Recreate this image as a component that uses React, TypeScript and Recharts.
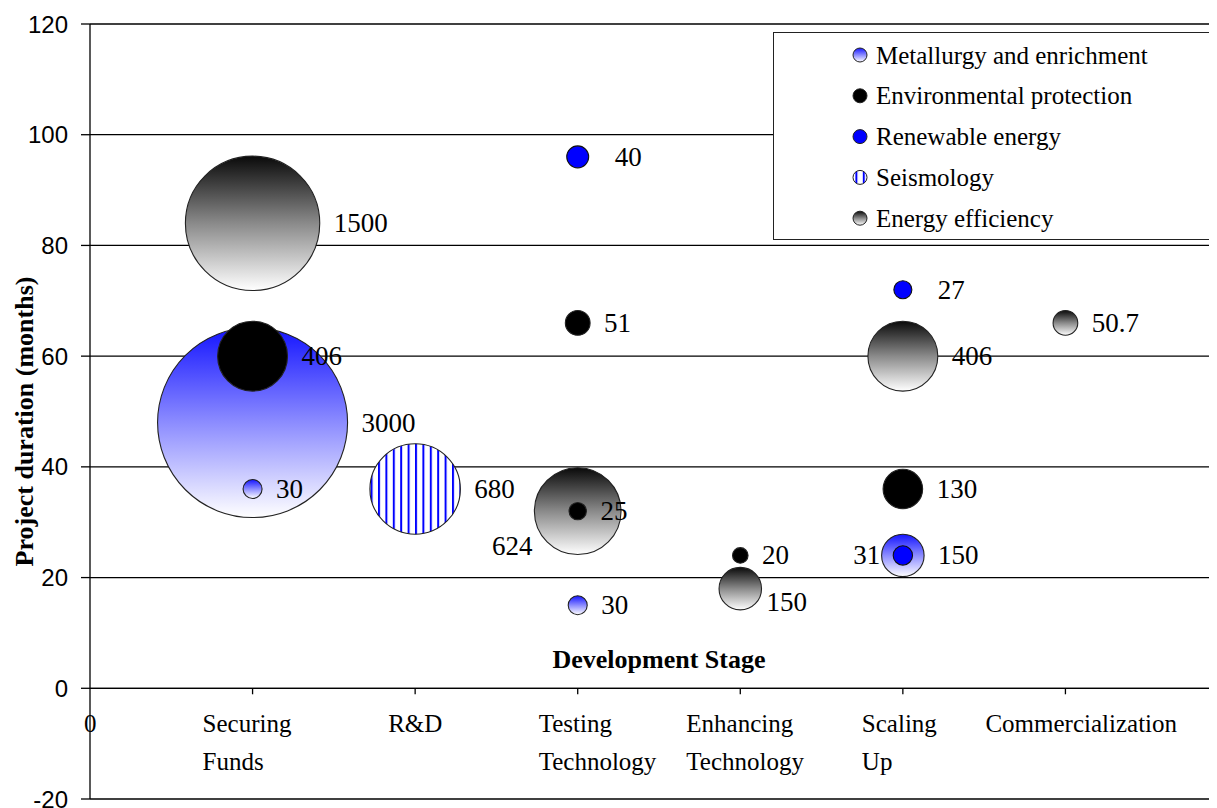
import React from "react";
import {
  ScatterChart,
  Scatter,
  XAxis,
  YAxis,
  ZAxis,
  CartesianGrid,
  ReferenceDot,
  ReferenceLine,
  Label,
} from "recharts";

// ---------- data ----------
const stageNames = ["0", "Securing Funds", "R&D", "Testing Technology", "Enhancing Technology", "Scaling Up", "Commercialization"];
const stageLines = [["0"], ["Securing", "Funds"], ["R&D"], ["Testing", "Technology"], ["Enhancing", "Technology"], ["Scaling", "Up"], ["Commercialization"]];
const yTicks = [-20, 0, 20, 40, 60, 80, 100, 120];

const metallurgyX = [1, 1, 3, 5];
const metallurgyY = [48, 36, 15, 24];
const metallurgyBudget = [3000, 30, 30, 150];

const efficiencyX = [1, 3, 4, 5, 6];
const efficiencyY = [84, 32, 18, 60, 66];
const efficiencyBudget = [1500, 624, 150, 406, 50.7];

const seismologyX = [2];
const seismologyY = [36];
const seismologyBudget = [680];

const environmentX = [1, 3, 3, 4, 5];
const environmentY = [60, 66, 32, 24, 36];
const environmentBudget = [406, 51, 25, 20, 130];

const renewableX = [3, 5, 5];
const renewableY = [96, 72, 24];
const renewableBudget = [40, 27, 31];

// ---------- presentation ----------
const SERIF = "'Liberation Serif', 'Times New Roman', serif";
const SANS = "'Liberation Sans', Arial, sans-serif";
const stageLabelDx = [-6, -50, -27, -39, -54, -41, -80];

const labelPlacement: Record<string, { side: "left" | "right"; gap: number; dy: number }> = {
  "ee-1": { side: "left", gap: 2, dy: 35 },
  "ee-2": { side: "right", gap: 5, dy: 13 },
  "ren-0": { side: "right", gap: 26, dy: 0 },
  "ren-1": { side: "right", gap: 26, dy: 0 },
  "ren-2": { side: "left", gap: 13, dy: 0 },
};

const build = (key: string, xs: number[], ys: number[], zs: number[]) =>
  xs.map((x, i) => ({ x, y: ys[i], z: zs[i], key: `${key}-${i}` }));

const seriesList = [
  { key: "met", name: "Metallurgy and enrichment", fill: "url(#gradMet)", stroke: "#222", data: build("met", metallurgyX, metallurgyY, metallurgyBudget) },
  { key: "ee", name: "Energy efficiency", fill: "url(#gradEE)", stroke: "#222", data: build("ee", efficiencyX, efficiencyY, efficiencyBudget) },
  { key: "seis", name: "Seismology", fill: "url(#patSeis)", stroke: "#222", data: build("seis", seismologyX, seismologyY, seismologyBudget) },
  { key: "env", name: "Environmental protection", fill: "#000000", stroke: "#222", data: build("env", environmentX, environmentY, environmentBudget) },
  { key: "ren", name: "Renewable energy", fill: "#0000ff", stroke: "#111", data: build("ren", renewableX, renewableY, renewableBudget) },
];

const legendOrder = ["met", "env", "ren", "seis", "ee"];

const makeShape = (fill: string, stroke: string) => (props: any) => {
  const { cx, cy, payload } = props;
  if (cx == null || cy == null) return <g />;
  const r = props.width ? props.width / 2 : Math.sqrt((props.size || 0) / Math.PI);
  const pl = labelPlacement[payload.key] || { side: "right", gap: 14, dy: 0 };
  const tx = pl.side === "right" ? cx + r + pl.gap : cx - r - pl.gap;
  return (
    <g>
      <circle cx={cx} cy={cy} r={r} fill={fill} stroke={stroke} strokeWidth={1.1} />
      <text
        x={tx}
        y={cy + pl.dy}
        textAnchor={pl.side === "right" ? "start" : "end"}
        dominantBaseline="central"
        fontFamily={SERIF}
        fontSize={27}
        fill="#000"
      >
        {String(payload.z)}
      </text>
    </g>
  );
};

const StageTick = (lines: string[], dx: number, withTick: boolean) => (p: any) => {
  const { cx, cy } = p;
  return (
    <g>
      {withTick && <line x1={cx} y1={cy} x2={cx} y2={cy + 6} stroke="#000" strokeWidth={1.3} />}
      {lines.map((ln, i) => (
        <text key={i} x={cx + dx} y={cy + 44 + i * 38} textAnchor="start" fontFamily={SERIF} fontSize={25} fill="#000">
          {ln}
        </text>
      ))}
    </g>
  );
};

const YTitle = (props: any) => {
  const vb = props.viewBox || { x: 0, y: 16, width: 82, height: 775 };
  const x = vb.x + 25;
  const y = vb.y + vb.height / 2 + 10;
  return (
    <text x={x} y={y} transform={`rotate(-90, ${x}, ${y})`} textAnchor="middle" fontFamily={SERIF} fontWeight="bold" fontSize={26} fill="#000">
      Project duration (months)
    </text>
  );
};

const XTitle = (props: any) => {
  const vb = props.viewBox || { x: 82, y: 404, width: 1138, height: 0 };
  return (
    <text x={vb.x + vb.width / 2} y={vb.y - 20} textAnchor="middle" fontFamily={SERIF} fontWeight="bold" fontSize={26} fill="#000">
      Development Stage
    </text>
  );
};

export default function App() {
  const legendRows = legendOrder.map((k) => seriesList.find((s) => s.key === k)!);
  return (
    <div style={{ position: "relative", width: 1230, height: 808, background: "#fff" }}>
      <style>{`html, body { overflow: hidden; }`}</style>
      <svg width={0} height={0} style={{ position: "absolute" }}>
        <defs>
          <linearGradient id="gradMet" x1="0" y1="0" x2="0" y2="1">
            <stop offset="0%" stopColor="#1414ff" />
            <stop offset="50%" stopColor="#8c8cff" />
            <stop offset="100%" stopColor="#ffffff" />
          </linearGradient>
          <linearGradient id="gradEE" x1="0" y1="0" x2="0" y2="1">
            <stop offset="0%" stopColor="#0a0a0a" />
            <stop offset="50%" stopColor="#8a8a8a" />
            <stop offset="100%" stopColor="#ffffff" />
          </linearGradient>
          <pattern id="patSeis" patternUnits="userSpaceOnUse" width={7.4} height={10}>
            <rect x={0} y={0} width={7.4} height={10} fill="#ffffff" />
            <rect x={0} y={0} width={2} height={10} fill="#0000ff" />
          </pattern>
        </defs>
      </svg>
      <ScatterChart width={1230} height={808} margin={{ top: 16, right: 10, bottom: 17, left: 0 }}>
        <CartesianGrid horizontal vertical={false} stroke="#000" strokeWidth={1.3} />
        <XAxis type="number" dataKey="x" domain={[0, 7]} hide height={0} allowDataOverflow />
        <YAxis
          type="number"
          dataKey="y"
          domain={[-20, 120]}
          ticks={yTicks}
          interval={0}
          width={82}
          tickSize={9}
          tickMargin={13}
          axisLine={{ stroke: "#000", strokeWidth: 1.3 }}
          tickLine={{ stroke: "#000", strokeWidth: 1.3 }}
          tick={{ fill: "#000", fontSize: 24, fontFamily: SANS }}
          allowDataOverflow
        >
          <Label content={YTitle} />
        </YAxis>
        <ZAxis type="number" dataKey="z" domain={[0, 3000]} range={[0, Math.PI * 95 * 95]} />
        <ReferenceLine y={0} stroke="#000" strokeWidth={1.3} label={<Label content={XTitle} />} />
        {stageNames.map((name, i) => (
          <ReferenceDot
            key={name}
            x={i}
            y={0}
            r={0}
            ifOverflow="visible"
            shape={StageTick(stageLines[i], stageLabelDx[i], i > 0)}
          />
        ))}
        {seriesList.map((s) => (
          <Scatter
            key={s.key}
            name={s.name}
            data={s.data}
            shape={makeShape(s.fill, s.stroke)}
            isAnimationActive={false}
          />
        ))}
      </ScatterChart>
      <div
        style={{
          position: "absolute",
          left: 765,
          top: 24,
          width: 440,
          height: 208,
          border: "1.5px solid #222",
          background: "#fff",
          boxSizing: "border-box",
        }}
      >
        <svg width={437} height={205} style={{ display: "block" }}>
          {legendRows.map((s, i) => {
            const y = 22 + i * 40.8;
            return (
              <g key={s.key}>
                <circle cx={86} cy={y} r={7} fill={s.fill} stroke="#222" strokeWidth={1} />
                <text x={102} y={y} dominantBaseline="central" fontFamily={SERIF} fontSize={25} fill="#000">
                  {s.name}
                </text>
              </g>
            );
          })}
        </svg>
      </div>
    </div>
  );
}
